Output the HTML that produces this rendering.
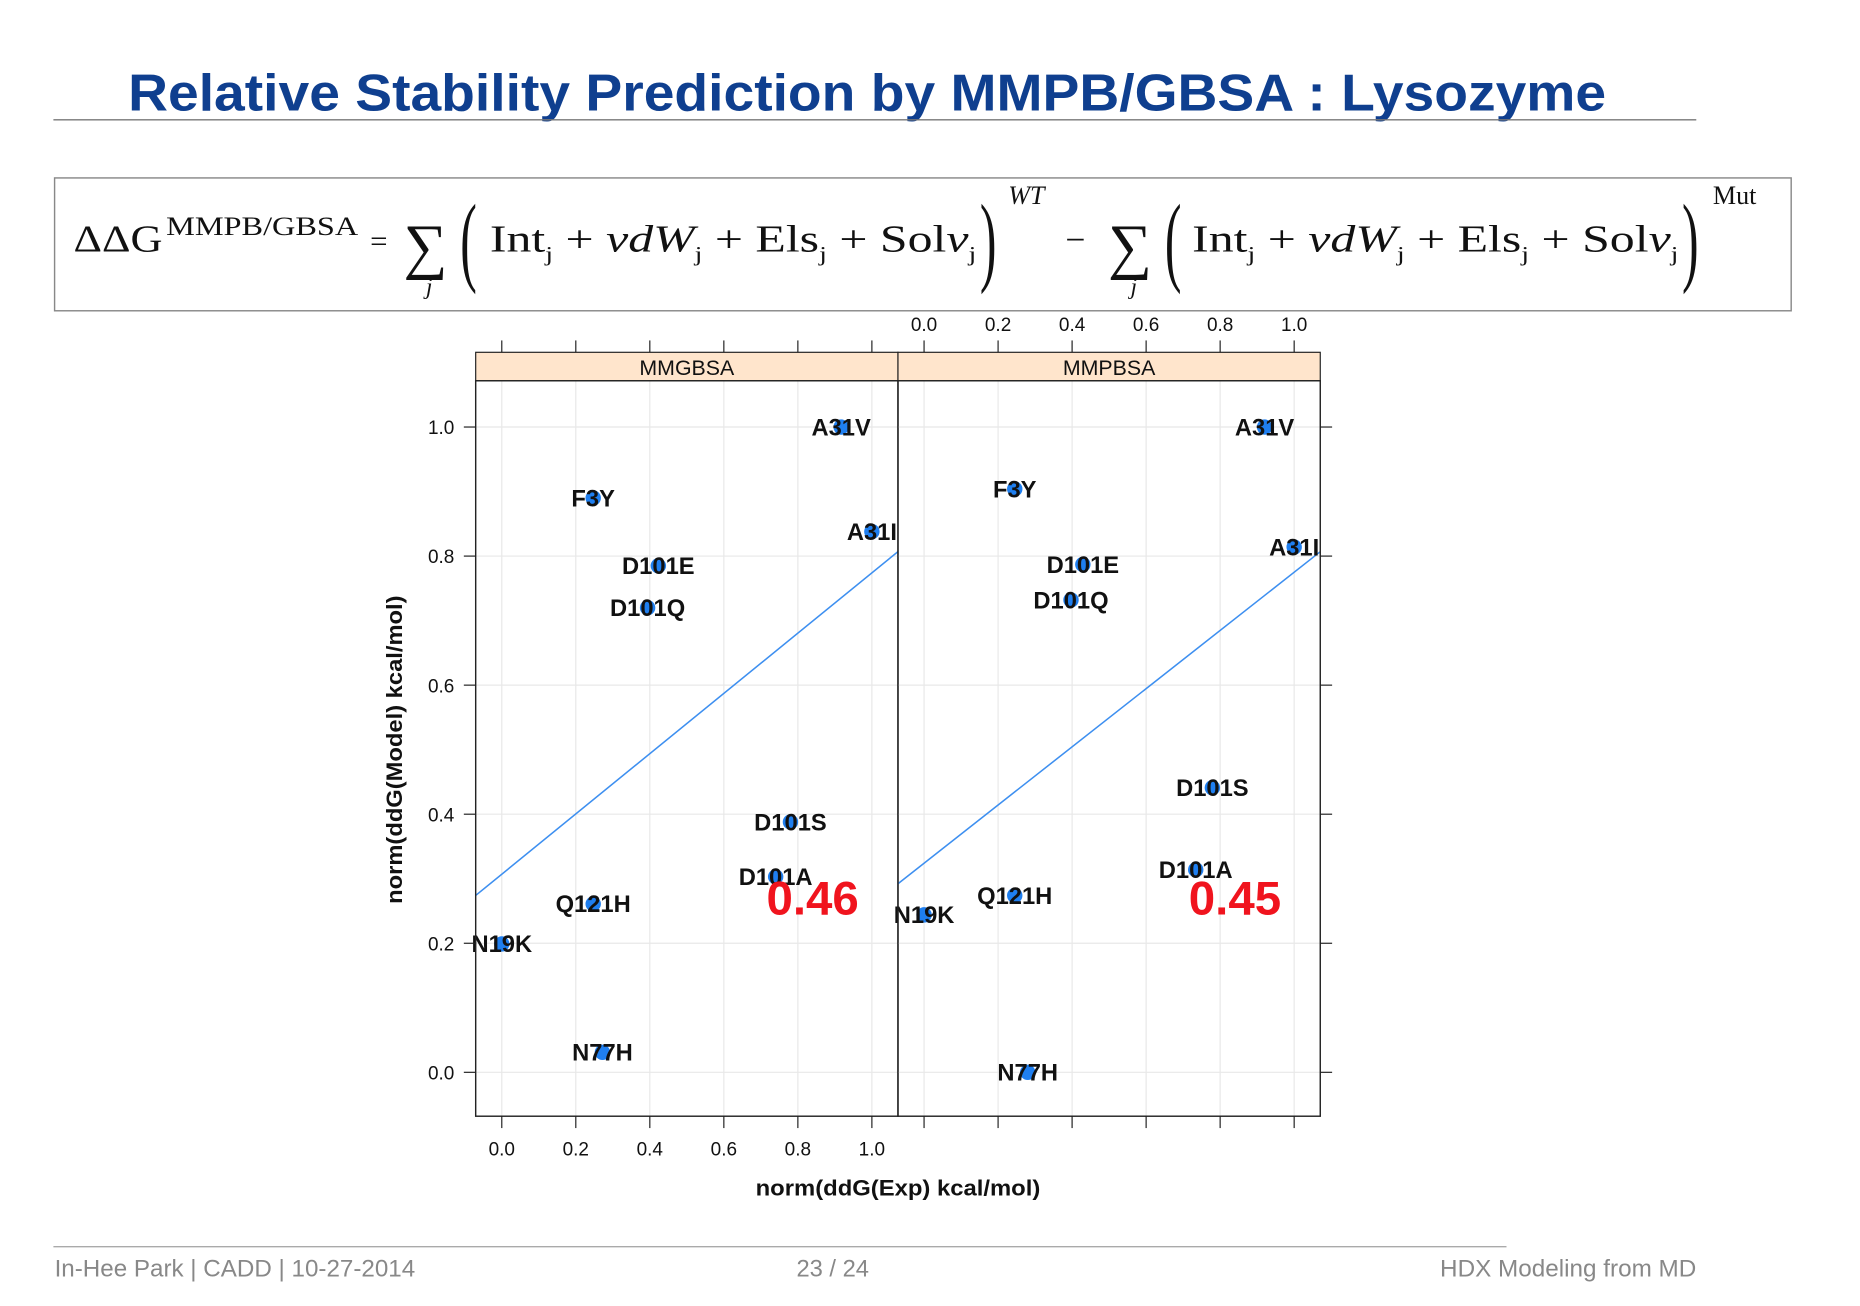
<!DOCTYPE html>
<html><head><meta charset="utf-8"><title>Relative Stability Prediction</title>
<style>html,body{margin:0;padding:0;background:#fff;}svg{display:block;}</style></head>
<body>
<svg id="root" width="1860" height="1306" viewBox="0 0 1568 1101" xmlns="http://www.w3.org/2000/svg" font-family="Liberation Sans, sans-serif">
<text x="108" y="93" font-size="44" font-weight="bold" fill="#0f3f8f" textLength="1246" lengthAdjust="spacingAndGlyphs">Relative Stability Prediction by MMPB/GBSA : Lysozyme</text>
<line x1="45" y1="101" x2="1430" y2="101" stroke="#777" stroke-width="1.2"/>
<g font-family="Liberation Serif, serif" fill="#111">
<rect x="46" y="150" width="1464" height="112" fill="#fff" stroke="#888" stroke-width="1.2"/>
<text x="62" y="212" font-size="32" textLength="75" lengthAdjust="spacingAndGlyphs">ΔΔG</text>
<text x="140" y="198" font-size="22" textLength="162" lengthAdjust="spacingAndGlyphs">MMPB/GBSA</text>
<text x="312" y="212" font-size="26">=</text>
<text x="340" y="225" font-size="52">∑</text>
<text x="359" y="248" font-size="20" font-style="italic">j</text>
<text x="388" y="230" font-size="84" transform="translate(388,205) scale(0.5,1) translate(-388,-205)">(</text>
<text x="413" y="212" font-size="32" textLength="410" lengthAdjust="spacingAndGlyphs">Int<tspan font-size="18" dy="8">j</tspan><tspan dy="-8"> + </tspan><tspan font-style="italic">vdW</tspan><tspan font-size="18" dy="8">j</tspan><tspan dy="-8"> + Els</tspan><tspan font-size="18" dy="8">j</tspan><tspan dy="-8"> + Sol</tspan><tspan font-style="italic">v</tspan><tspan font-size="18" dy="8">j</tspan></text>
<text x="826" y="230" font-size="84" transform="translate(826,205) scale(0.5,1) translate(-826,-205)">)</text>
<text x="850" y="172" font-size="22" font-style="italic">WT</text>
<text x="898" y="212" font-size="30">−</text>
<text x="934" y="225" font-size="52">∑</text>
<text x="953" y="248" font-size="20" font-style="italic">j</text>
<text x="982" y="230" font-size="84" transform="translate(982,205) scale(0.5,1) translate(-982,-205)">(</text>
<text x="1005" y="212" font-size="32" textLength="410" lengthAdjust="spacingAndGlyphs">Int<tspan font-size="18" dy="8">j</tspan><tspan dy="-8"> + </tspan><tspan font-style="italic">vdW</tspan><tspan font-size="18" dy="8">j</tspan><tspan dy="-8"> + Els</tspan><tspan font-size="18" dy="8">j</tspan><tspan dy="-8"> + Sol</tspan><tspan font-style="italic">v</tspan><tspan font-size="18" dy="8">j</tspan></text>
<text x="1418" y="230" font-size="84" transform="translate(1418,205) scale(0.5,1) translate(-1418,-205)">)</text>
<text x="1444" y="172" font-size="22">Mut</text>
</g>
<g id="chart"></g>
<line x1="45" y1="1051" x2="1270" y2="1051" stroke="#aaa" stroke-width="1.2"/>
<text x="46" y="1076" font-size="20" fill="#888" textLength="304" lengthAdjust="spacingAndGlyphs">In-Hee Park | CADD | 10-27-2014</text>
<text x="702" y="1076" font-size="20" fill="#888" text-anchor="middle">23 / 24</text>
<text x="1214" y="1076" font-size="20" fill="#888" textLength="216" lengthAdjust="spacingAndGlyphs">HDX Modeling from MD</text>
</svg>
<script>
const panels = ["MMGBSA", "MMPBSA"];
const mutants = ["A31V","F3Y","A31I","D101E","D101Q","D101S","D101A","Q121H","N19K","N77H"];
const gbX = [0.917,0.247,1.0,0.423,0.394,0.78,0.74,0.247,0.0,0.272];
const gbY = [1.0,0.89,0.838,0.785,0.72,0.388,0.303,0.261,0.199,0.031];
const pbX = [0.92,0.245,1.0,0.429,0.397,0.779,0.734,0.245,0.0,0.28];
const pbY = [1.0,0.904,0.814,0.787,0.732,0.441,0.314,0.274,0.244,0.0];
const fitSlope = [0.467,0.451];
const fitIntercept = [0.307,0.324];
const corrLabels = ["0.46","0.45"];
const corrPos = [[0.84,0.27],[0.84,0.27]];
const ticks = [0,0.2,0.4,0.6,0.8,1.0];
const tickLabels = ["0.0","0.2","0.4","0.6","0.8","1.0"];

(function(){
const NS="http://www.w3.org/2000/svg";
const g=document.getElementById('chart');
function mk(tag,attrs,parent){const e=document.createElementNS(NS,tag);for(const k in attrs)e.setAttribute(k,attrs[k]);(parent||g).appendChild(e);return e;}
const pTop=321,pBot=941,pw=356,panelLeft=[401,757];
const xmin=-0.0705,xmax=1.0705;
function sx(p,v){return panelLeft[p]+(v-xmin)/(xmax-xmin)*pw;}
function sy(v){return 904-v*544;}
const xs=[gbX,pbX], ys=[gbY,pbY];

panels.forEach((name,p)=>{
  const L=panelLeft[p];
  const pg=mk('g',{});
  
  
  ticks.forEach(t=>{
    mk('line',{x1:sx(p,t),x2:sx(p,t),y1:pTop,y2:pBot,stroke:'#e8e8e8','stroke-width':1},pg);
    mk('line',{x1:L,x2:L+pw,y1:sy(t),y2:sy(t),stroke:'#e8e8e8','stroke-width':1},pg);
  });
  const st=mk('rect',{x:L,y:297,width:pw,height:24,fill:'#ffe5cc',stroke:'#222','stroke-width':1},pg);
  
  
  const stt=mk('text',{x:L+pw/2,y:316,'font-size':18,'text-anchor':'middle',fill:'#111'},pg);
  stt.textContent=name;
  
  
  const fl=mk('line',{x1:sx(p,xmin),y1:sy(fitIntercept[p]+fitSlope[p]*xmin),x2:sx(p,xmax),y2:sy(fitIntercept[p]+fitSlope[p]*xmax),stroke:'#3d8ff0','stroke-width':1.3},pg);
  
  
  mutants.forEach((m,i)=>{
    const c=mk('circle',{cx:sx(p,xs[p][i]),cy:sy(ys[p][i]),r:6.5,fill:'#1f7ff0'},pg);
    
    
    const t=mk('text',{x:sx(p,xs[p][i]),y:sy(ys[p][i])+7,'font-size':20,'font-weight':'bold','text-anchor':'middle',fill:'#111'},pg);
    t.textContent=m;
    
    
  });
  const ct=mk('text',{x:sx(p,corrPos[p][0]),y:sy(corrPos[p][1])+14,'font-size':40,'font-weight':'bold','text-anchor':'middle',fill:'#f0141e'},pg);
  ct.textContent=corrLabels[p];
  
  
  mk('rect',{x:L,y:pTop,width:pw,height:pBot-pTop,fill:'none',stroke:'#222','stroke-width':1.2},pg);
  ticks.forEach((t,k)=>{
    const x=sx(p,t);
    mk('line',{x1:x,x2:x,y1:pBot,y2:pBot+10,stroke:'#222'},pg);
    mk('line',{x1:x,x2:x,y1:287,y2:297,stroke:'#222'},pg);
    if(p===0){
      const tl=mk('text',{x:x,y:974,'font-size':16,'text-anchor':'middle',fill:'#111'},pg);
      tl.textContent=tickLabels[k];
      
      
    } else {
      const tl=mk('text',{x:x,y:279,'font-size':16,'text-anchor':'middle',fill:'#111'},pg);
      tl.textContent=tickLabels[k];
      
      
    }
  });
});
ticks.forEach((t,k)=>{
  mk('line',{x1:391,x2:401,y1:sy(t),y2:sy(t),stroke:'#222'});
  mk('line',{x1:1113,x2:1123,y1:sy(t),y2:sy(t),stroke:'#222'});
  const tl=mk('text',{x:383,y:sy(t)+6,'font-size':16,'text-anchor':'end',fill:'#111'});
  tl.textContent=tickLabels[k];
  
  
});
const xt=mk('text',{x:757,y:1008,'font-size':19,'font-weight':'bold','text-anchor':'middle',fill:'#111',textLength:240,lengthAdjust:'spacingAndGlyphs'});
xt.textContent='norm(ddG(Exp) kcal/mol)';


const yt=mk('text',{x:0,y:0,'font-size':19,'font-weight':'bold','text-anchor':'middle',fill:'#111',textLength:260,lengthAdjust:'spacingAndGlyphs',transform:'translate(339,632) rotate(-90)'});
yt.textContent='norm(ddG(Model) kcal/mol)';


})();
</script>
</body></html>
